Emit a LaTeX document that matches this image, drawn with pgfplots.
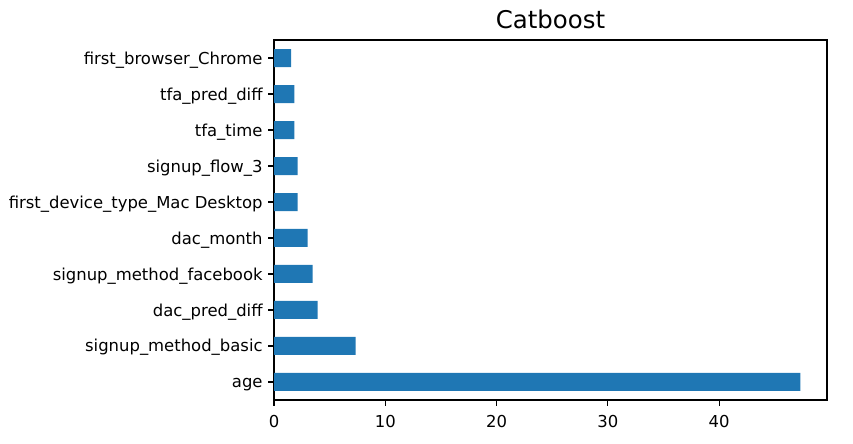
\documentclass[border=0pt]{standalone}
\usepackage{fontspec}
\setmainfont{DejaVu Sans}
\usepackage{pgfplots}
\pgfplotsset{compat=1.18}
\definecolor{mplblue}{HTML}{1F77B4}
\begin{document}
\begin{tikzpicture}[x=1bp,y=1bp]
\begin{axis}[
  at={(274bp,44bp)}, anchor=south west,
  scale only axis, width=553bp, height=360bp,
  xbar, bar width=0.5,
  xmin=0, xmax=49.7, ymin=-0.5, ymax=9.5,
  xtick={0,10,20,30,40},
  ytick={0,1,2,3,4,5,6,7,8,9},
  yticklabels={age,signup\_method\_basic,dac\_pred\_diff,signup\_method\_facebook,dac\_month,first\_device\_type\_Mac Desktop,signup\_flow\_3,tfa\_time,tfa\_pred\_diff,first\_browser\_Chrome},
  tick pos=left, tick align=outside,
  major tick length=5.6bp,
  every tick/.style={black, line width=1.1bp},
  axis line style={line width=1.1bp},
  /pgf/number format/assume math mode=true,
  tick label style={font=\fontsize{16.5}{19}\selectfont},
  yticklabel style={inner sep=0pt, anchor=base east, xshift=-5.6bp, yshift=-6bp},
  xticklabel style={inner sep=0pt, yshift=-10bp},
  title={Catboost},
  title style={font=\fontsize{24.5}{28}\selectfont, at={(0.5,1)}, anchor=base, inner sep=0pt, yshift=6bp},
]
\addplot[fill=mplblue, draw=none] coordinates {
  (47.3,0) (7.34,1) (3.92,2) (3.47,3) (3.02,4) (2.12,5) (2.12,6) (1.82,7) (1.82,8) (1.55,9)
};
\end{axis}
\pgfresetboundingbox
\path[use as bounding box] (0,0) rectangle (853bp,444bp);
\end{tikzpicture}
\end{document}
